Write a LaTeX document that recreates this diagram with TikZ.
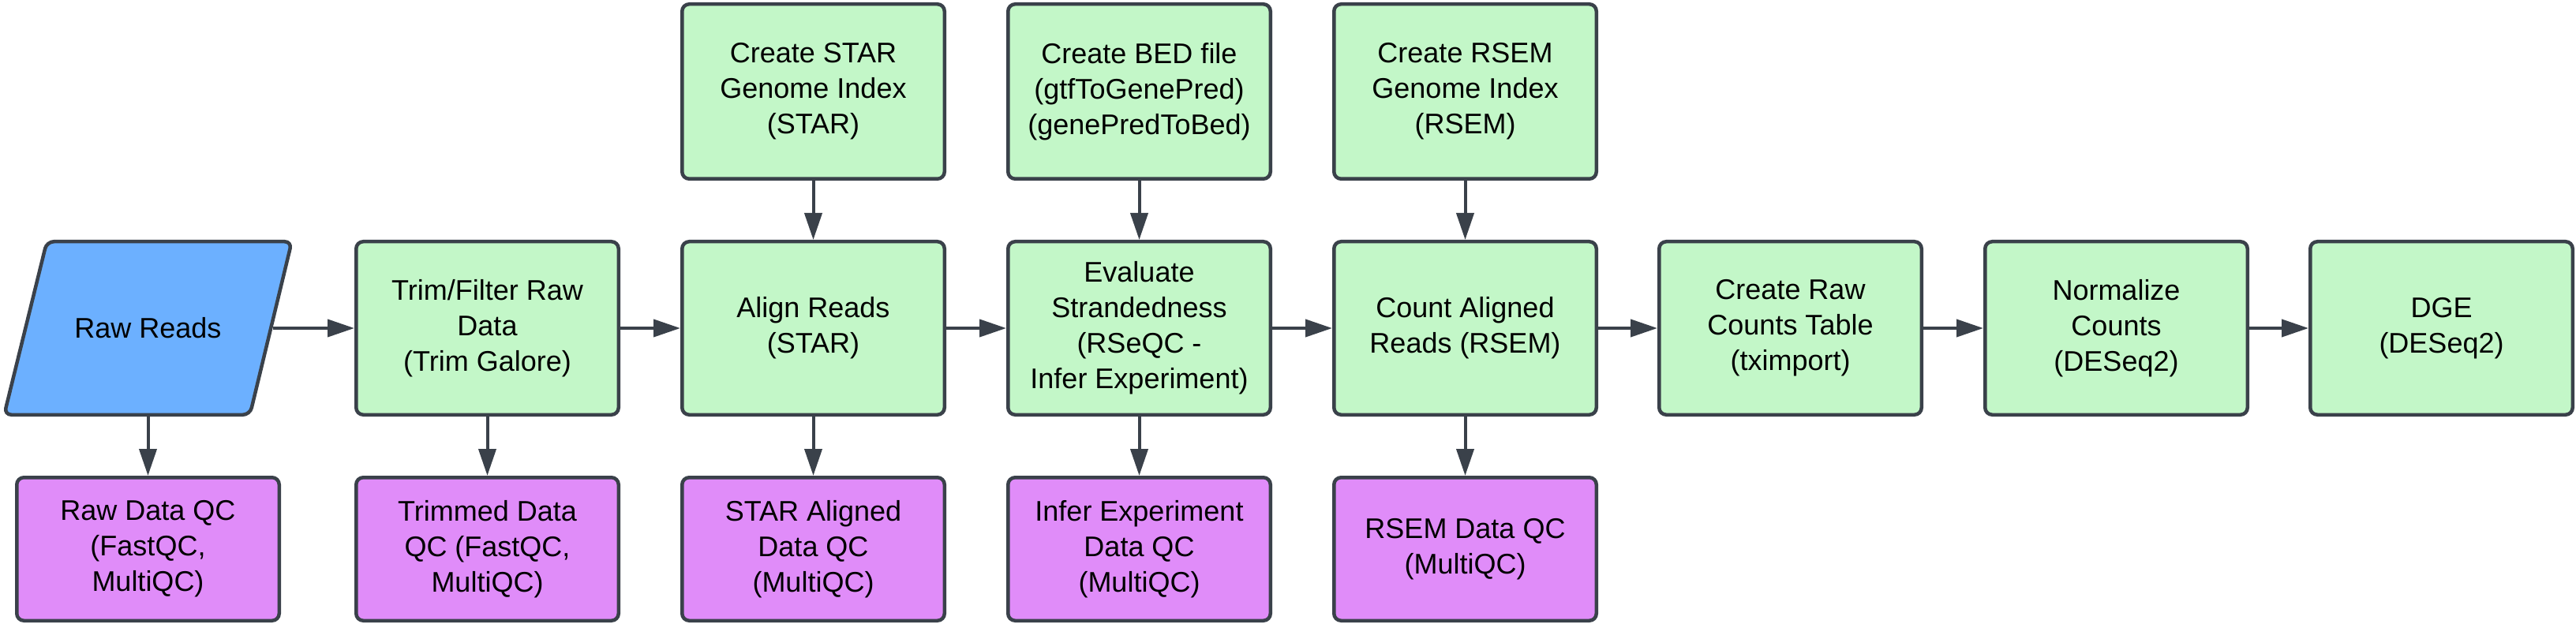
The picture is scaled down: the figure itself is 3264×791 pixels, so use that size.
\documentclass[tikz,border=0pt]{standalone}
\usepackage{fontspec}
\setmainfont{Liberation Sans}
\usetikzlibrary{arrows.meta}
\definecolor{edgecol}{HTML}{3A414A}
\definecolor{gfill}{HTML}{C3F7C8}
\definecolor{bfill}{HTML}{6CB0FF}
\definecolor{pfill}{HTML}{E08CF9}
\begin{document}
\begin{tikzpicture}[x=1pt,y=-1pt,
  box/.style={draw=edgecol, line width=4.5pt, rounded corners=9pt, align=center,
    font=\fontsize{36}{45}\selectfont, text=black, inner sep=0pt, minimum width=332.5pt},
  procbox/.style={box, fill=gfill, minimum height=219.5pt},
  topbox/.style={box, fill=gfill, minimum height=221.5pt},
  qcbox/.style={box, fill=pfill, minimum height=181.5pt},
  inshape/.style={draw=edgecol, fill=bfill, line width=4.5pt, rounded corners=9pt},
  inbox/.style={font=\fontsize{36}{45}\selectfont, text=black, inner sep=0pt, outer sep=0pt,
    minimum width=316pt, minimum height=224pt},
  flow/.style={draw=edgecol, line width=4pt, -{Triangle[length=34pt,width=22pt]}}
]
\useasboundingbox (0,0) rectangle (3264,791);

% input parallelogram
\draw[inshape] (59.3,306.25) -- (369.7,306.25) -- (316.7,525.75) -- (5.3,525.75) -- cycle;
\node[inbox] (raw) at (187.5,416) {Raw Reads};

% main row
\node[procbox] (trim) at (617.5,416) {Trim/Filter Raw\\Data\\(Trim Galore)};
\node[procbox] (align) at (1030.5,416) {Align Reads\\(STAR)};
\node[procbox] (eval) at (1443.5,416) {Evaluate\\Strandedness\\(RSeQC -\\Infer Experiment)};
\node[procbox] (count) at (1856.5,416) {Count Aligned\\Reads (RSEM)};
\node[procbox] (rawcounts) at (2268.5,416) {Create Raw\\Counts Table\\(tximport)};
\node[procbox] (norm) at (2681.5,416) {Normalize\\Counts\\(DESeq2)};
\node[procbox] (dge) at (3093.5,416) {DGE\\(DESeq2)};

% top row
\node[topbox] (staridx) at (1030.5,116) {Create STAR\\Genome Index\\(STAR)};
\node[topbox] (bed) at (1443.5,116) {Create BED file\\(gtfToGenePred)\\(genePredToBed)};
\node[topbox] (rsemidx) at (1856.5,116) {Create RSEM\\Genome Index\\(RSEM)};

% bottom row
\node[qcbox] (qc1) at (187.5,696) {Raw Data QC\\(FastQC,\\MultiQC)};
\node[qcbox] (qc2) at (617.5,696) {Trimmed Data\\QC (FastQC,\\MultiQC)};
\node[qcbox] (qc3) at (1030.5,696) {STAR Aligned\\Data QC\\(MultiQC)};
\node[qcbox] (qc4) at (1443.5,696) {Infer Experiment\\Data QC\\(MultiQC)};
\node[qcbox] (qc5) at (1856.5,696) {RSEM Data QC\\(MultiQC)};

% connectors
\draw[flow] (raw) -- (trim);
\draw[flow] (trim) -- (align);
\draw[flow] (align) -- (eval);
\draw[flow] (eval) -- (count);
\draw[flow] (count) -- (rawcounts);
\draw[flow] (rawcounts) -- (norm);
\draw[flow] (norm) -- (dge);

\draw[flow] (staridx) -- (align);
\draw[flow] (bed) -- (eval);
\draw[flow] (rsemidx) -- (count);

\draw[flow] (raw) -- (qc1);
\draw[flow] (trim) -- (qc2);
\draw[flow] (align) -- (qc3);
\draw[flow] (eval) -- (qc4);
\draw[flow] (count) -- (qc5);
\end{tikzpicture}
\end{document}
